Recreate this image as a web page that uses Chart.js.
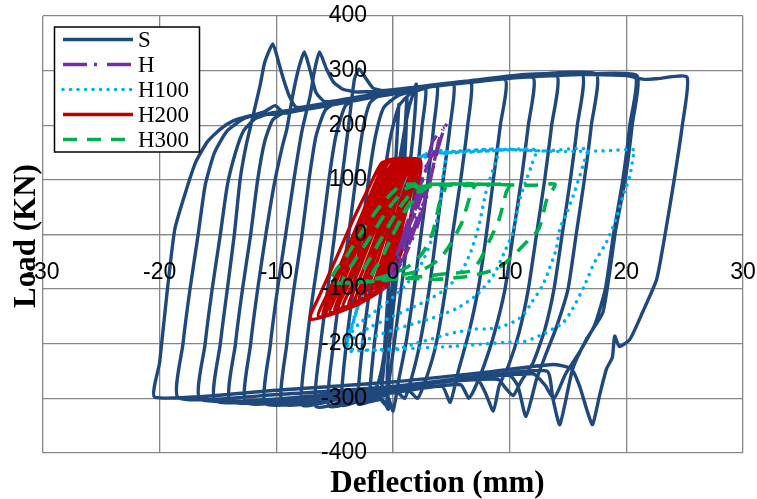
<!DOCTYPE html>
<html>
<head>
<meta charset="utf-8">
<script src="https://cdn.jsdelivr.net/npm/chart.js@4.4.0/dist/chart.umd.min.js"></script>
<style>
  html, body { margin: 0; padding: 0; background: #fff; }
  #wrap { width: 757px; height: 499px; position: relative; }
</style>
</head>
<body>
<div id="wrap"><canvas id="c" width="757" height="499"></canvas></div>
<script>
// Axis ranges and tick steps
const xRange = [-30, 30];
const yRange = [-400, 400];
const xStep = 10;
const yStep = 100;

const seriesNames = ['S', 'H', 'H100', 'H200', 'H300'];

// Load-deflection records, [deflection (mm), load (kN)]
const S = [
[0,0],[0.2,120],[0.4,200],[0.5,238],
[0.2,120],[-0.1,0],[-0.4,-100],[-0.7,-200],[-0.9,-265],[-1.0,-288],
[-0.6,-200],[-0.1,-100],[0.5,0],[0.9,100],[1.1,180],[1.2,252],
[0.9,150],[0.5,50],[0.0,-80],[-0.5,-180],[-1.0,-250],[-1.5,-285],[-2.0,-300],
[-1.6,-200],[-1.0,-100],[-0.4,0],[0.3,100],[0.9,180],[1.4,235],[1.8,262],[2.0,275],
[1.8,200],[1.3,100],[0.7,0],[0.2,-100],[-0.3,-200],[-0.5,-262],[-0.4,-320],[-0.9,-302],[-2.0,-306],[-3.0,-310],
[-2.6,-200],[-2.0,-100],[-1.4,0],[-0.8,100],[-0.2,180],[0.5,235],[1.5,258],[2.8,266],
[2.5,200],[2.0,100],[1.3,0],[0.7,-100],[0.1,-200],[-0.3,-262],[-0.6,-312],[-1.2,-300],[-3.0,-306],[-4.4,-312],
[-4.0,-200],[-3.4,-100],[-2.7,0],[-2.1,100],[-1.5,180],[-0.8,232],[0.5,255],[2.5,266],[3.8,272],
[3.5,200],[3.0,100],[2.4,0],[1.8,-100],[1.1,-200],[0.5,-265],[0.0,-323],[-0.5,-296],[-2.5,-302],[-5.5,-314],
[-5.1,-200],[-4.5,-100],[-3.8,0],[-3.2,100],[-2.6,190],[-2.0,240],[-1.0,257],[1.0,264],[3.0,270],[5.2,276],
[4.9,200],[4.3,100],[3.7,0],[3.1,-100],[2.3,-200],[1.6,-262],[1.0,-300],[0.2,-286],[-3.0,-298],[-6.6,-315],
[-6.2,-200],[-5.6,-100],[-5.0,0],[-4.4,100],[-3.8,200],[-3.3,285],[-2.9,303],[-2.3,285],[-1.7,268],[-0.5,262],[2.0,268],[4.5,274],[6.7,279],
[6.4,200],[5.8,100],[5.1,0],[4.5,-100],[3.7,-200],[2.9,-260],[2.1,-300],[1.3,-285],[-2.0,-296],[-5.0,-303],[-7.8,-312],
[-7.4,-200],[-6.8,-100],[-6.1,0],[-5.5,100],[-4.9,180],[-4.1,235],[-3.0,250],[0.0,262],[4.0,274],[9.6,284],
[9.2,200],[8.6,100],[8.0,0],[7.3,-100],[6.5,-180],[5.6,-250],[4.9,-307],[4.2,-278],[0.0,-290],[-5.0,-302],[-9.5,-310],
[-9.1,-200],[-8.5,-100],[-7.8,0],[-7.2,100],[-6.6,180],[-5.8,228],[-4.5,245],[-2.0,254],[2.0,267],[7.0,280],[12.0,288],
[11.6,200],[11.0,100],[10.3,0],[9.6,-100],[8.7,-180],[7.8,-240],[7.0,-282],[6.5,-300],[5.8,-275],[2.0,-282],[-4.0,-296],[-10.9,-310],
[-10.5,-200],[-9.9,-100],[-9.2,0],[-8.5,100],[-7.8,190],[-7.1,254],[-6.7,303],[-6.3,334],[-5.7,303],[-5.1,279],[-4.3,266],[-3.1,261],[0.0,265],[6.0,280],[14.0,292],
[13.6,200],[13.0,100],[12.3,0],[11.6,-100],[10.8,-180],[9.9,-240],[9.1,-277],[8.6,-323],[7.9,-289],[7.2,-265],[2.0,-276],[-6.0,-296],[-12.6,-308],
[-12.2,-200],[-11.6,-100],[-10.9,0],[-10.2,90],[-9.5,160],[-9.1,193],[-8.6,254],[-8.1,303],[-7.6,334],[-7.1,300],[-6.6,260],[-5.8,243],[-3.0,252],[3.0,272],[10.0,287],[16.2,294],
[15.8,200],[15.2,100],[14.5,0],[13.8,-100],[13.0,-175],[12.0,-235],[11.0,-268],[10.3,-295],[9.6,-280],[9.0,-265],[4.0,-270],[-4.0,-291],[-13.9,-306],
[-13.5,-200],[-12.9,-100],[-12.2,0],[-11.6,100],[-11.0,170],[-10.3,210],[-9.2,225],[-8.0,230],[-4.0,246],[2.0,268],[10.0,287],[17.4,294],
[17.0,200],[16.4,100],[15.7,0],[15.0,-100],[14.0,-170],[13.0,-225],[12.3,-265],[11.4,-333],[10.7,-277],[10.0,-258],[5.0,-266],[-5.0,-292],[-15.2,-305],
[-14.8,-200],[-14.2,-100],[-13.6,0],[-13.1,101],[-12.6,162],[-12.0,217],[-11.4,272],[-11.0,315],[-10.3,349],[-9.8,315],[-9.4,285],[-8.9,254],[-8.3,233],[-7.0,236],[-2.0,254],[5.0,276],[12.0,290],[20.7,290],
[20.3,200],[19.7,100],[18.9,0],[18.2,-100],[17.3,-165],[16.0,-215],[14.8,-255],[13.8,-300],[13.0,-275],[12.0,-255],[5.0,-266],[-5.0,-292],[-16.5,-302],
[-16.1,-200],[-15.5,-100],[-14.8,0],[-14.2,90],[-13.5,150],[-12.8,190],[-11.8,212],[-10.5,222],[-8.0,230],[0.0,262],[10.0,286],[16.0,293],[20.9,291],
[20.5,200],[19.9,100],[19.1,10],[18.0,-142],[16.6,-191],[15.4,-246],[14.3,-348],[13.7,-300],[13.2,-250],[8.0,-258],[0.0,-278],[-10.0,-293],[-18.4,-299],
[-18.0,-200],[-17.4,-100],[-16.7,0],[-16.1,90],[-15.3,150],[-14.2,190],[-12.8,212],[-11.0,225],[-10.1,236],[-9.3,222],[-6.0,237],[0.0,262],[8.0,282],[14.0,293],[20.0,291],[21.5,284],[22.5,285],[25.2,288],
[24.8,200],[24.1,100],[23.4,10],[22.6,-82],[21.4,-142],[20.3,-192],[19.4,-205],[19.0,-186],[18.8,-225],[18.3,-246],[17.7,-295],[17.1,-348],[16.6,-320],[16.0,-278],[15.3,-246],[13.7,-238],[8.0,-252],[0.0,-270],[-10.0,-285],[-20.4,-298],
[-20.0,-234],[-19.4,-113],[-18.7,10],[-17.7,83],[-16.9,133],[-15.9,170],[-14.8,193],[-13.7,208],[-12.3,217],[-10.0,221],[-6.0,234],[-2.0,250],[2.0,264]
];

const H = [
[1.0,0],[1.9,40],[2.5,80],
[1.8,40],[1.0,0],[0.5,-30],
[1.3,-10],[2.2,30],[2.9,80],[3.4,120],
[2.6,80],[1.8,30],[0.9,-20],[0.2,-60],
[1.0,-40],[2.0,10],[2.9,70],[3.5,130],[3.8,160],
[3.0,130],[2.4,90],[1.6,40],[0.6,-20],[-0.4,-80],
[0.5,-60],[1.6,-5],[2.6,55],[3.4,120],[3.9,170],[4.3,195],
[3.4,170],[2.9,130],[2.2,80],[1.2,20],[0.2,-50],[-0.9,-100],
[0.2,-70],[1.4,-10],[2.4,50],[3.3,110],[3.9,160],[4.4,195],[4.9,212]
];

const H100 = [
[0,0],[0.6,60],[1.3,110],[2.2,140],[3.2,150],[4.5,152],
[4.3,110],[3.9,40],[3.3,-10],[2.4,-55],[1.2,-90],[0,-115],[-1.5,-140],[-3.0,-165],[-3.6,-180],
[-3.0,-130],[-2.0,-70],[-0.8,0],[0.4,60],[1.5,110],[2.6,140],[4,150],[6,152],[9.1,156],
[8.9,140],[8.0,80],[7.4,20],[6.7,-30],[5.8,-70],[4.5,-100],[3.0,-120],[1.5,-135],[0,-150],[-2,-170],[-3.7,-192],
[-3.1,-140],[-2.1,-75],[-0.9,0],[0.3,65],[1.4,115],[2.5,143],[5,150],[8,153],[12.2,155],
[11.9,128],[10.9,67],[10.3,6],[9.6,-30],[8.6,-75],[7.2,-110],[5.5,-135],[3.5,-152],[1.5,-165],[-1,-182],[-3.9,-203],
[-3.3,-150],[-2.2,-80],[-1.0,0],[0.3,70],[1.5,120],[2.8,146],[6,150],[10,155],[13,153],[16.6,156],
[16.3,128],[15.6,80],[14.9,40],[14.3,10],[14.0,-26],[13.4,-63],[12.8,-94],[11.9,-124],[11.1,-149],[10.3,-160],[9.1,-170],[8.0,-173],[7.1,-173],[5.4,-179],[4.3,-185],[3.2,-192],[1.7,-201],[0.8,-207],[-0.3,-210],[-2.5,-212],[-4.0,-212],
[-3.4,-160],[-2.4,-90],[-1.2,-10],[0.2,70],[1.4,120],[2.6,145],[5,152],[9,156],[14,152],[18,153],[20.7,155],
[20.6,144],[20.3,107],[19.7,70],[19.2,34],[18.3,-14],[17.3,-50],[16.4,-94],[15.4,-136],[14.6,-161],[13.7,-173],[12.6,-185],[11.1,-197],[10.0,-197],[8,-200],[5,-205],[2,-208],[-1,-212],[-3.5,-210]
];

const H200 = [
[0,0],[0.8,60],[1.3,100],
[0.5,40],[-0.3,-20],[-1.0,-70],[-1.5,-100],
[-0.8,-50],[0,10],[0.8,70],[1.4,105],
[0.6,40],[-0.3,-25],[-1.2,-80],[-1.9,-105],
[-1.1,-55],[-0.1,10],[0.7,65],[1.3,100],[1.6,112],
[0.9,55],[0.0,-10],[-0.8,-70],[-1.4,-105],[-2.4,-112],
[-1.6,-65],[-0.6,0],[0.3,60],[0.9,100],[1.4,115],[1.8,120],
[1.1,70],[0.3,5],[-0.6,-65],[-1.3,-105],[-2.9,-118],
[-2.0,-70],[-0.9,0],[0,60],[0.7,100],[1.3,118],[1.9,122],
[1.3,80],[0.4,10],[-0.5,-60],[-1.2,-100],[-2.4,-116],[-3.3,-122],
[-2.4,-75],[-1.2,-5],[-0.2,55],[0.6,100],[1.2,120],[2.0,125],
[1.4,84],[0.5,14],[-0.4,-56],[-1.1,-102],[-2.5,-120],[-3.8,-128],
[-2.8,-78],[-1.6,-12],[-0.5,52],[0.3,100],[1.0,124],[2.0,127],
[1.4,85],[0.5,15],[-0.4,-55],[-1.0,-100],[-2.5,-122],[-4.3,-132],
[-3.2,-80],[-2.0,-15],[-0.8,50],[0.1,100],[0.9,125],[2.1,130],
[1.5,92],[0.6,22],[-0.3,-48],[-1.0,-98],[-2.8,-124],[-4.7,-135],
[-3.6,-82],[-2.3,-17],[-1.1,48],[-0.2,100],[0.7,127],[2.1,131],
[1.6,95],[0.7,25],[-0.2,-45],[-0.9,-95],[-2.8,-124],[-5.0,-138],
[-3.9,-85],[-2.6,-20],[-1.4,45],[-0.4,100],[0.5,128],[2.2,132],
[1.7,100],[0.8,30],[-0.1,-42],[-0.8,-95],[-2.9,-126],[-5.4,-142],
[-4.3,-88],[-3.0,-22],[-1.7,43],[-0.7,100],[0.3,129],[2.2,133],
[1.8,105],[0.9,35],[0,-40],[-0.7,-95],[-3.0,-128],[-5.7,-145],
[-4.6,-90],[-3.3,-25],[-2.0,40],[-0.9,100],[0,130],[2.3,134],
[2.0,110],[1.1,40],[0.2,-35],[-0.6,-95],[-3.3,-130],[-6.0,-148],
[-5.0,-93],[-3.6,-25],[-2.3,40],[-1.2,100],[-0.3,133],[2.3,135],
[2.0,110],[1.1,40],[0.2,-35],[-0.6,-95],[-3.5,-132],[-6.4,-150],
[-5.3,-95],[-3.9,-25],[-2.6,40],[-1.4,100],[-0.6,135],[2.3,137],
[2.3,107],[1.4,22],[0.6,-39],[-0.6,-94],[-3.8,-135],[-7.1,-155],
[-6.3,-112],[-4.9,-45],[-3.4,28],[-2.0,89],[-0.9,132],[1.0,135]
];

const H300 = [
[0,0],[1.2,50],[2.5,85],[4.5,90],
[4.0,59],[3.4,4],[2.5,-35],[1.2,-60],[-0.5,-75],[-2.0,-82],
[-1.0,-45],[0,0],[1.3,50],[2.8,85],[4.5,92],[7.0,92],
[6.7,77],[5.9,22],[5.0,-15],[4.0,-45],[2.5,-65],[0.5,-75],[-1.5,-82],[-3.0,-86],
[-2.0,-45],[-0.8,0],[0.6,50],[2.0,85],[4,90],[7,90],[10.0,92],
[9.7,77],[9.1,28],[8.3,-10],[7.4,-49],[6.6,-67],[4.5,-72],[2,-78],[-1,-84],[-4.3,-87],
[-3.2,-45],[-1.8,0],[-0.3,50],[1.2,85],[3,92],[8,92],[12,90],[13.9,92],
[13.2,65],[12.5,10],[11.7,-8],[10.3,-39],[8.9,-63],[6.6,-76],[3.7,-82],[0.8,-80],[-2,-86],[-5.4,-88],
[-4.9,-65],[-4.0,-40],[-2.5,10],[-1.0,55],[0.6,89],[2,93]
];

const toXY = arr => arr.map(p => ({x: p[0], y: p[1]}));

const styles = {
  S:    {color: '#1F497D', width: 3.4, dash: [],            cap: 'butt',  order: 5, tension: 0.18},
  H:    {color: '#7030A0', width: 3.3, dash: [24, 7, 3, 10], cap: 'butt',  order: 2, tension: 0.2},
  H100: {color: '#00B0F0', width: 3.6, dash: [0.01, 7.5],   cap: 'round', order: 4, tension: 0.25},
  H200: {color: '#C00000', width: 3.3, dash: [],            cap: 'butt',  order: 3, tension: 0.2},
  H300: {color: '#00B050', width: 3.6, dash: [14, 10],      cap: 'butt',  order: 1, tension: 0.2}
};
const seriesData = {S, H, H100, H200, H300};

const datasets = seriesNames.map(name => ({
  label: name,
  data: toXY(seriesData[name]),
  showLine: true,
  borderColor: styles[name].color,
  backgroundColor: styles[name].color,
  borderWidth: styles[name].width,
  borderDash: styles[name].dash,
  borderCapStyle: styles[name].cap,
  borderJoinStyle: 'round',
  tension: styles[name].tension,
  pointRadius: 0,
  pointHoverRadius: 0,
  fill: false,
  order: styles[name].order
}));

// Boxed legend in the upper-left corner of the plot
const boxLegend = {
  id: 'boxLegend',
  afterDraw(chart) {
    const ctx = chart.ctx;
    const x0 = 54.5, y0 = 27, w = 145, h = 125;
    ctx.save();
    ctx.fillStyle = '#fff';
    ctx.fillRect(x0, y0, w, h);
    ctx.strokeStyle = '#000';
    ctx.lineWidth = 1.5;
    ctx.strokeRect(x0, y0, w, h);
    chart.data.datasets.forEach((ds, i) => {
      const y = 39.5 + i * 25;
      ctx.beginPath();
      ctx.strokeStyle = ds.borderColor;
      ctx.lineWidth = ds.borderWidth;
      ctx.lineCap = ds.borderCapStyle;
      ctx.setLineDash(ds.borderDash);
      ctx.moveTo(63, y);
      ctx.lineTo(133, y);
      ctx.stroke();
      ctx.setLineDash([]);
      ctx.fillStyle = '#000';
      ctx.font = '23px "Liberation Serif"';
      ctx.textAlign = 'left';
      ctx.textBaseline = 'alphabetic';
      ctx.fillText(ds.label, 138, y + 7.8);
    });
    ctx.restore();
  }
};

// Axis titles placed at the outer edges
const axisTitles = {
  id: 'axisTitles',
  afterDraw(chart) {
    const ctx = chart.ctx;
    ctx.save();
    ctx.fillStyle = '#000';
    ctx.font = 'bold 31px "Liberation Serif"';
    ctx.textAlign = 'center';
    ctx.textBaseline = 'alphabetic';
    ctx.fillText('Deflection (mm)', 437.5, 492);
    ctx.translate(35, 236);
    ctx.rotate(-Math.PI / 2);
    ctx.fillText('Load (KN)', 0, 0);
    ctx.restore();
  }
};

// Axes cross at the origin, so their labels must not shrink the plot area
const noOverhang = scale => {
  scale.paddingLeft = 0; scale.paddingRight = 0;
  scale.paddingTop = 0; scale.paddingBottom = 0;
  if (scale.isHorizontal()) { scale.height = 0; } else { scale.width = 0; }
};

const gridColor = '#878787';
const tickFont = {family: '"Liberation Sans"', size: 23};

new Chart(document.getElementById('c'), {
  type: 'scatter',
  data: {datasets},
  options: {
    responsive: false,
    animation: false,
    events: [],
    layout: {padding: {left: 43, right: 14, top: 16, bottom: 46}},
    plugins: {legend: {display: false}, tooltip: {enabled: false}, title: {display: false}},
    scales: {
      x: {
        type: 'linear', position: 'center',
        min: xRange[0], max: xRange[1],
        afterFit: noOverhang,
        ticks: {stepSize: xStep, padding: 24, color: '#000', font: tickFont, maxRotation: 0, autoSkip: false, z: 1},
        grid: {color: gridColor, lineWidth: 1.3, drawTicks: false},
        border: {display: true, color: gridColor, width: 1.3}
      },
      y: {
        type: 'linear', position: 'center',
        min: yRange[0], max: yRange[1],
        afterFit: noOverhang,
        ticks: {stepSize: yStep, padding: 26, color: '#000', font: tickFont, autoSkip: false, z: 1},
        grid: {color: gridColor, lineWidth: 1.3, drawTicks: false},
        border: {display: true, color: gridColor, width: 1.3}
      }
    }
  },
  plugins: [boxLegend, axisTitles]
});
</script>
</body>
</html>
